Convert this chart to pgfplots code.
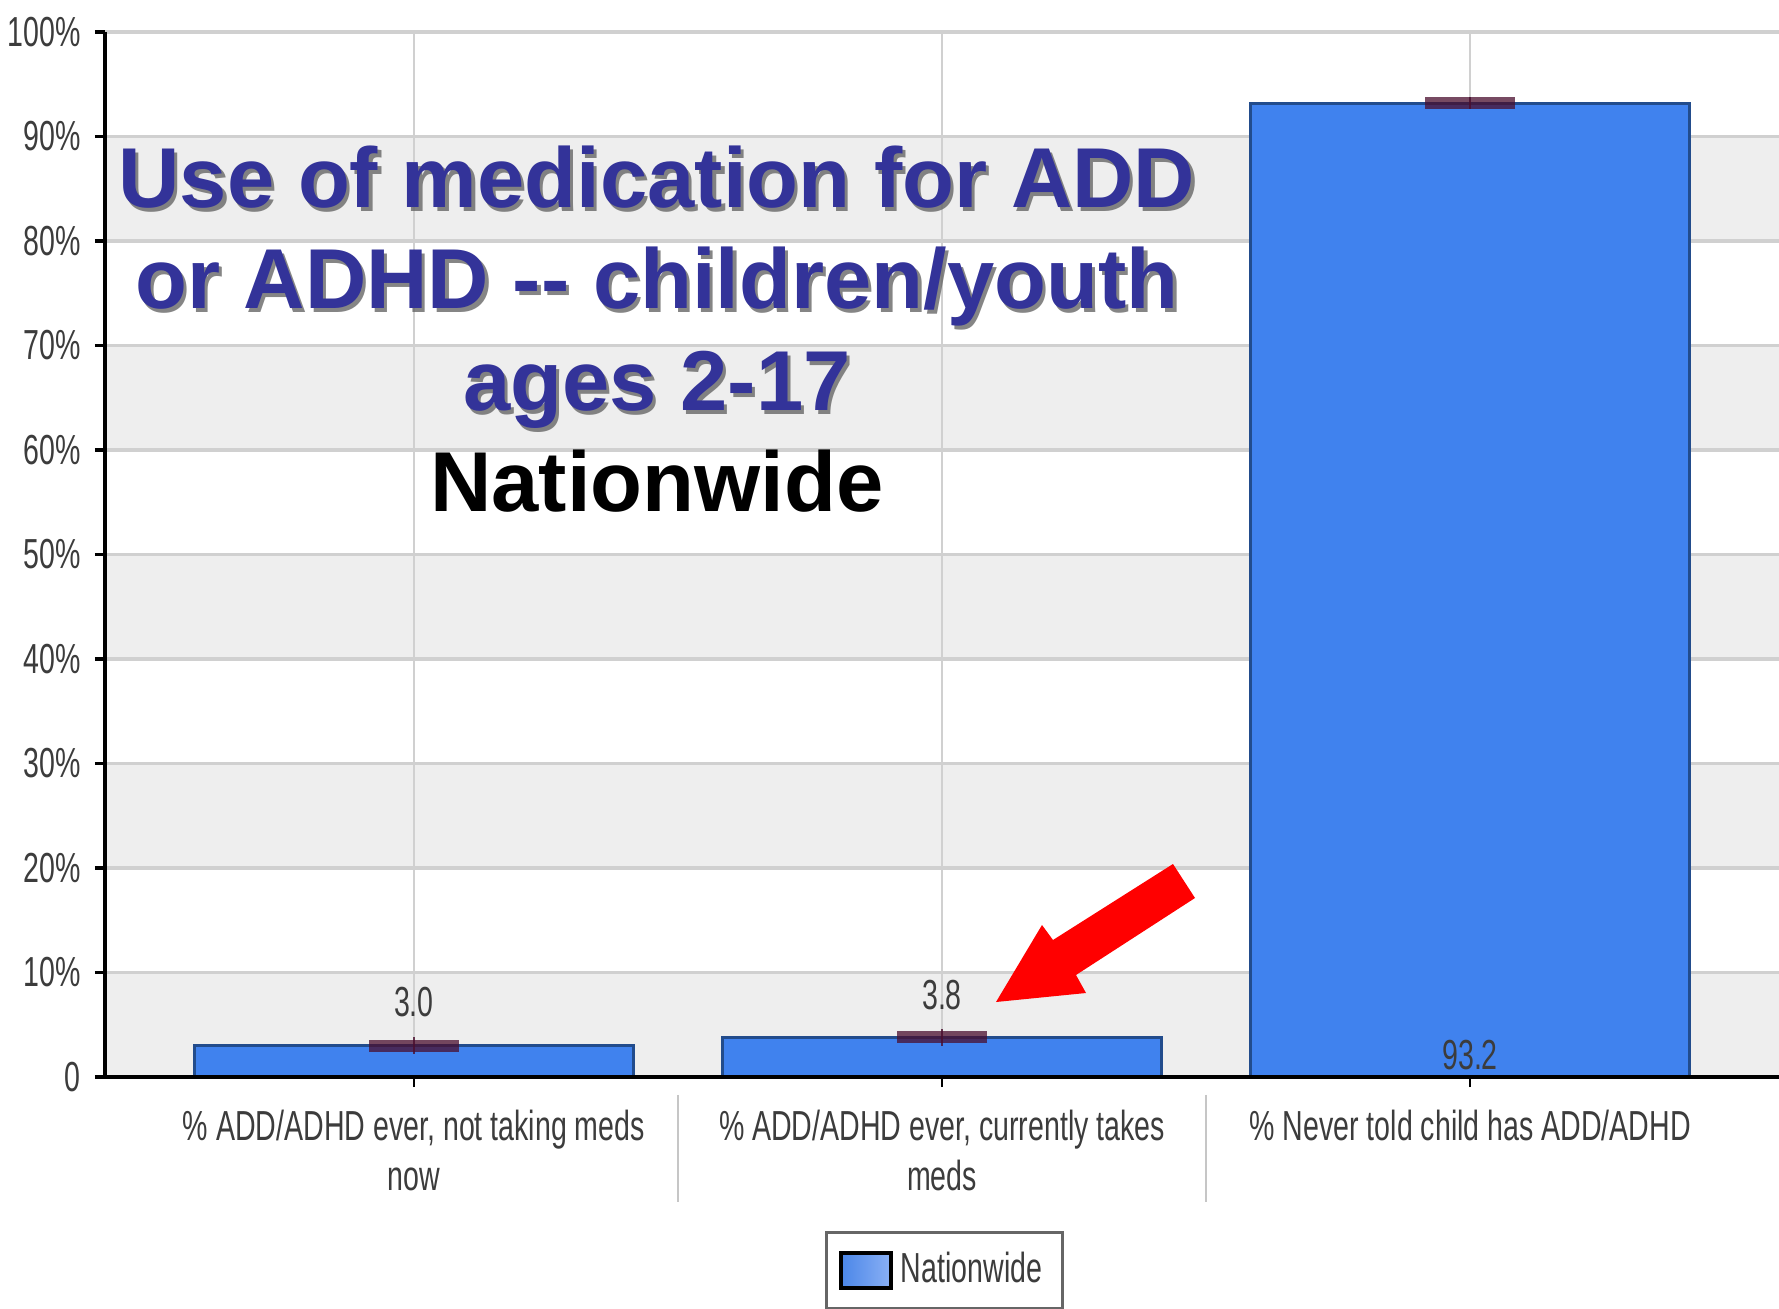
\documentclass[border=0pt]{standalone}
\usepackage{pgfplots}
\pgfplotsset{compat=1.18}
\usepackage{fontspec}
\setmainfont{Liberation Sans}
\newfontfamily\narrowfont[FakeStretch=0.68]{Liberation Sans}
\definecolor{barblue}{HTML}{4082EE}
\definecolor{baredge}{HTML}{224C8C}
\definecolor{band}{HTML}{EEEEEE}
\definecolor{gridc}{HTML}{D0D0D0}
\definecolor{errc}{HTML}{4A0E2E}
\definecolor{titleblue}{HTML}{333399}
\definecolor{txt}{HTML}{3C3C3C}
\definecolor{legl}{HTML}{4A86E8}
\definecolor{legr}{HTML}{8AB0F5}
\newcommand{\smallfont}{\narrowfont\fontsize{10.5}{12.5}\selectfont}
\newcommand{\titlefont}{\bfseries\fontsize{21.25}{25}\selectfont}
\newcommand{\tline}[2]{%
  \node[anchor=base, font=\titlefont, text=black!60, opacity=0.8] at ([xshift=0.8pt,yshift=-0.8pt]138pt,#1) {#2};
  \node[anchor=base, font=\titlefont, text=titleblue] at (138pt,#1) {#2};}
\begin{document}
\begin{tikzpicture}
\path[use as bounding box] (-26.25pt,-57.75pt) rectangle (418.5pt,269.25pt);
\begin{axis}[
  at={(0pt,0pt)}, anchor=south west,
  scale only axis, width=418.5pt, height=261.25pt,
  xmin=-0.585, xmax=2.585, ymin=0, ymax=100,
  clip=false, axis on top,
  axis x line*=bottom, axis y line*=left,
  axis line style={-, black, line width=1pt},
  xtick={0,1,2},
  xticklabels={{\% ADD/ADHD ever, not taking meds\\now},{\% ADD/ADHD ever, currently takes\\meds},{\% Never told child has ADD/ADHD}},
  ytick={0,10,20,30,40,50,60,70,80,90,100},
  yticklabels={0,10\%,20\%,30\%,40\%,50\%,60\%,70\%,80\%,90\%,100\%},
  tick align=outside,
  major tick length=2.5pt,
  xtick style={black, line width=0.6pt},
  ytick style={black, line width=0.9pt},
  ticklabel style={font=\smallfont, text=txt},
  x tick label style={align=center, yshift=-2.25pt},
  legend style={at={(0.5015,-0.1474)}, anchor=north, draw=gray!80!black, line width=0.75pt,
    font=\smallfont, text=txt, inner xsep=3pt, inner ysep=3pt},
]
% background bands
\fill[band] (axis cs:-0.585,0) rectangle (axis cs:2.585,10);
\fill[band] (axis cs:-0.585,20) rectangle (axis cs:2.585,30);
\fill[band] (axis cs:-0.585,40) rectangle (axis cs:2.585,50);
\fill[band] (axis cs:-0.585,60) rectangle (axis cs:2.585,70);
\fill[band] (axis cs:-0.585,80) rectangle (axis cs:2.585,90);
% horizontal grid
\draw[gridc, line width=0.9pt] (axis cs:-0.585,10) -- (axis cs:2.585,10);
\draw[gridc, line width=0.9pt] (axis cs:-0.585,20) -- (axis cs:2.585,20);
\draw[gridc, line width=0.9pt] (axis cs:-0.585,30) -- (axis cs:2.585,30);
\draw[gridc, line width=0.9pt] (axis cs:-0.585,40) -- (axis cs:2.585,40);
\draw[gridc, line width=0.9pt] (axis cs:-0.585,50) -- (axis cs:2.585,50);
\draw[gridc, line width=0.9pt] (axis cs:-0.585,60) -- (axis cs:2.585,60);
\draw[gridc, line width=0.9pt] (axis cs:-0.585,70) -- (axis cs:2.585,70);
\draw[gridc, line width=0.9pt] (axis cs:-0.585,80) -- (axis cs:2.585,80);
\draw[gridc, line width=0.9pt] (axis cs:-0.585,90) -- (axis cs:2.585,90);
\draw[gridc, line width=0.9pt] (axis cs:-0.585,100) -- (axis cs:2.585,100);
% vertical grid
\draw[gridc, line width=0.5pt] (axis cs:0,0) -- (axis cs:0,100);
\draw[gridc, line width=0.5pt] (axis cs:1,0) -- (axis cs:1,100);
\draw[gridc, line width=0.5pt] (axis cs:2,0) -- (axis cs:2,100);
% bars
\addplot[ybar, bar width=0.83, fill=barblue, draw=baredge, line width=0.75pt,
  legend image code/.code={\shade[left color=legl, right color=legr, draw=black, line width=1pt] (0pt,-4.375pt) rectangle (12.5pt,4.375pt);}]
  coordinates {(0,3.0) (1,3.8) (2,93.2)};
\addlegendentry{Nationwide}
% error bars
\addplot[forget plot, only marks, mark=-, mark size=11.25pt,
  mark options={line width=3pt, draw=errc, opacity=0.75},
  error bars/.cd, y dir=both, y explicit, error mark=none,
  error bar style={line width=0.7pt, draw=errc, opacity=0.8}]
  coordinates {(0,3.0) +- (0,0.8) (1,3.8) +- (0,0.8) (2,93.2) +- (0,0.6)};
% value labels
\node[font=\smallfont, text=txt] at (axis cs:0,7.2) {3.0};
\node[font=\smallfont, text=txt] at (axis cs:1,7.85) {3.8};
\node[font=\smallfont, text=txt] at (axis cs:2,2.1) {93.2};
% category separators
\draw[gray!45, line width=0.6pt] (axis cs:0.5,-1.7) -- (axis cs:0.5,-12);
\draw[gray!45, line width=0.6pt] (axis cs:1.5,-1.7) -- (axis cs:1.5,-12);
\end{axis}
% title
\tline{217.25pt}{Use of medication for ADD}
\tline{192pt}{or ADHD -{}- children/youth}
\tline{166.5pt}{ages 2-17}
\node[anchor=base, font=\titlefont, text=black] at (138pt,141.25pt) {Nationwide};
% arrow
\fill[red] (222.75pt,18.75pt) -- (234.25pt,38pt) -- (237pt,34.25pt) -- (267pt,53.25pt) -- (272.5pt,44.75pt) -- (242.75pt,25.5pt) -- (245.25pt,21pt) -- cycle;
\end{tikzpicture}
\end{document}
